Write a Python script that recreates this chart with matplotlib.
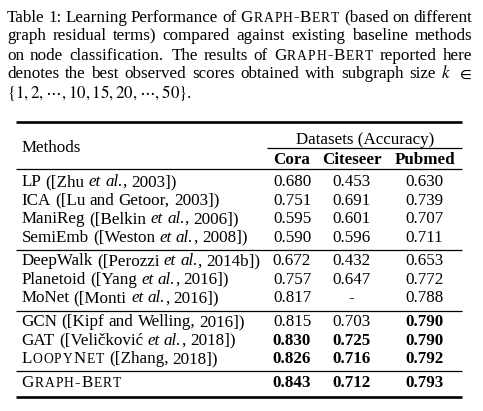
import matplotlib
matplotlib.use('Agg')
import matplotlib.pyplot as plt

plt.rcParams['mathtext.fontset'] = 'stix'
FONT = 'Liberation Serif'
SIZE = 12.25
SC = 0.8      # small caps scale
TRACK = 0.9   # extra spacing for small caps letters (px)

# caption lines (*...* italic, ^...^ small caps)
caption = [
    "Table 1: Learning Performance of ^Graph-Bert^ (based on different",
    "graph residual terms) compared against existing baseline methods",
    "on node classification.  The results of ^Graph-Bert^ reported here",
    "denotes the best observed scores obtained with subgraph size $k$ $\\in$",
    "$\\{1,2,\\cdots,10,15,20,\\cdots,50\\}$.",
]

methods = [
    "LP ([Zhu *et al.*, 2003])",
    "ICA ([Lu and Getoor, 2003])",
    "ManiReg ([Belkin *et al.*, 2006])",
    "SemiEmb ([Weston *et al.*, 2008])",
    "DeepWalk ([Perozzi *et al.*, 2014b])",
    "Planetoid ([Yang *et al.*, 2016])",
    "MoNet ([Monti *et al.*, 2016])",
    "GCN ([Kipf and Welling, 2016])",
    "GAT ([Veličković *et al.*, 2018])",
    "^LoopyNet^ ([Zhang, 2018])",
    "^Graph-Bert^",
]
groups = [0, 0, 0, 0, 1, 1, 1, 2, 2, 2, 3]

datasets = ["Cora", "Citeseer", "Pubmed"]
cora = [0.680, 0.751, 0.595, 0.590, 0.672, 0.757, 0.817, 0.815, 0.830, 0.826, 0.843]
citeseer = [0.453, 0.691, 0.601, 0.596, 0.432, 0.647, None, 0.703, 0.725, 0.716, 0.712]
pubmed = [0.630, 0.739, 0.707, 0.711, 0.653, 0.772, 0.788, 0.790, 0.790, 0.792, 0.793]
cora_bold = [0, 0, 0, 0, 0, 0, 0, 0, 1, 1, 1]
citeseer_bold = [0, 0, 0, 0, 0, 0, 0, 0, 1, 1, 1]
pubmed_bold = [0, 0, 0, 0, 0, 0, 0, 1, 1, 1, 1]

fig = plt.figure(figsize=(4.83, 4.11), dpi=100)
ax = fig.add_axes([0, 0, 1, 1])
ax.set_xlim(0, 483)
ax.set_ylim(411, 0)
ax.axis('off')
renderer = fig.canvas.get_renderer()


def parse_line(text):
    # split a marked-up line into words; each word is a list of (text, italic, scale, track)
    words = []
    gaps = []
    cur = []
    it = sc = False
    pending = 0
    for ch in text:
        if ch == '*':
            it = not it
        elif ch == '^':
            sc = not sc
        elif ch == ' ':
            if cur:
                words.append(cur)
                cur = []
            pending += 1
        else:
            if not cur and words:
                gaps.append(1 + 0.4 * (pending - 1))
            pending = 0
            cur.append((ch, it, sc))
    if cur:
        words.append(cur)

    out = []
    for w in words:
        runs = []
        for ch, i, s in w:
            if s:
                if ch.islower():
                    runs.append([ch.upper(), i, SC, TRACK])
                else:
                    runs.append([ch, i, 1.0, TRACK if ch.isalpha() else 0.8])
            elif runs and runs[-1][1] == i and runs[-1][2] == 1.0 and runs[-1][3] == 0:
                runs[-1][0] += ch
            else:
                runs.append([ch, i, 1.0, 0])
        out.append(runs)
    return out, gaps


def ink_width(s, **kw):
    t = ax.text(0, 0, s, **kw)
    w = t.get_window_extent(renderer).width
    t.remove()
    return w


def advance(s, **kw):
    # pen advance of s, measured between two bars
    if '$' in s:
        return ink_width(s, **kw)
    return ink_width('|' + s + '|', **kw) - ink_width('||', **kw)


def make_word(runs, bold=False):
    objs = []
    for text, it, scale, track in runs:
        kw = dict(fontsize=SIZE * scale, family=FONT,
                  style='italic' if it else 'normal',
                  weight='bold' if bold else 'normal')
        t = ax.text(0, 0, text, va='baseline', ha='left', **kw)
        objs.append((t, advance(text, **kw) + track))
    return objs


SPACE = advance(' ', fontsize=SIZE, family=FONT)


def draw_line(text, x0, y, x1=None, bold=False):
    parsed, weights = parse_line(text)
    words = [make_word(r, bold) for r in parsed]
    totals = [sum(w for _, w in wd) for wd in words]
    if x1 is not None and len(words) > 1:
        unit = (x1 - x0 - sum(totals)) / sum(weights)
    else:
        unit = SPACE
    x = x0
    for i, wd in enumerate(words):
        for t, w in wd:
            t.set_position((x, y))
            x += w
        if i < len(weights):
            x += unit * weights[i]


# caption
cap_x0, cap_x1 = 7, 472
for i, line in enumerate(caption):
    y = 21.5 + 19.0 * i
    draw_line(line, cap_x0, y, cap_x1 if i < len(caption) - 1 else None)

# table
left, right = 16, 462
col_x = [292, 351.5, 424.5]
row_y = [186 + 18.5 * i + 5.3 * g for i, g in enumerate(groups)]

ax.hlines(122.5, left, right, color='black', lw=1.9)
ax.text(365, 143.5, "Datasets (Accuracy)", fontsize=SIZE, family=FONT,
        ha='center', va='baseline')
ax.hlines(148.5, 267, right, color='black', lw=0.9)
draw_line("Methods", 21.5, 152)
for name, x in zip(datasets, col_x):
    ax.text(x, 164, name, fontsize=SIZE, family=FONT, weight='bold',
            ha='center', va='baseline')
ax.hlines(169.5, left, right, color='black', lw=0.9)

for i, m in enumerate(methods):
    y = row_y[i]
    if i > 0 and groups[i] != groups[i - 1]:
        ax.hlines(y - 15.5, left, right, color='black', lw=0.9)
    draw_line(m, 21.5, y)
    for vals, bolds, x in zip([cora, citeseer, pubmed],
                              [cora_bold, citeseer_bold, pubmed_bold], col_x):
        v = vals[i]
        s = '-' if v is None else f"{v:.3f}"
        ax.text(x, y, s, fontsize=SIZE, family=FONT,
                weight='bold' if bolds[i] else 'normal', ha='center', va='baseline')

ax.hlines(row_y[-1] + 10, left, right, color='black', lw=1.9)

fig.savefig('out.png', dpi=100)
